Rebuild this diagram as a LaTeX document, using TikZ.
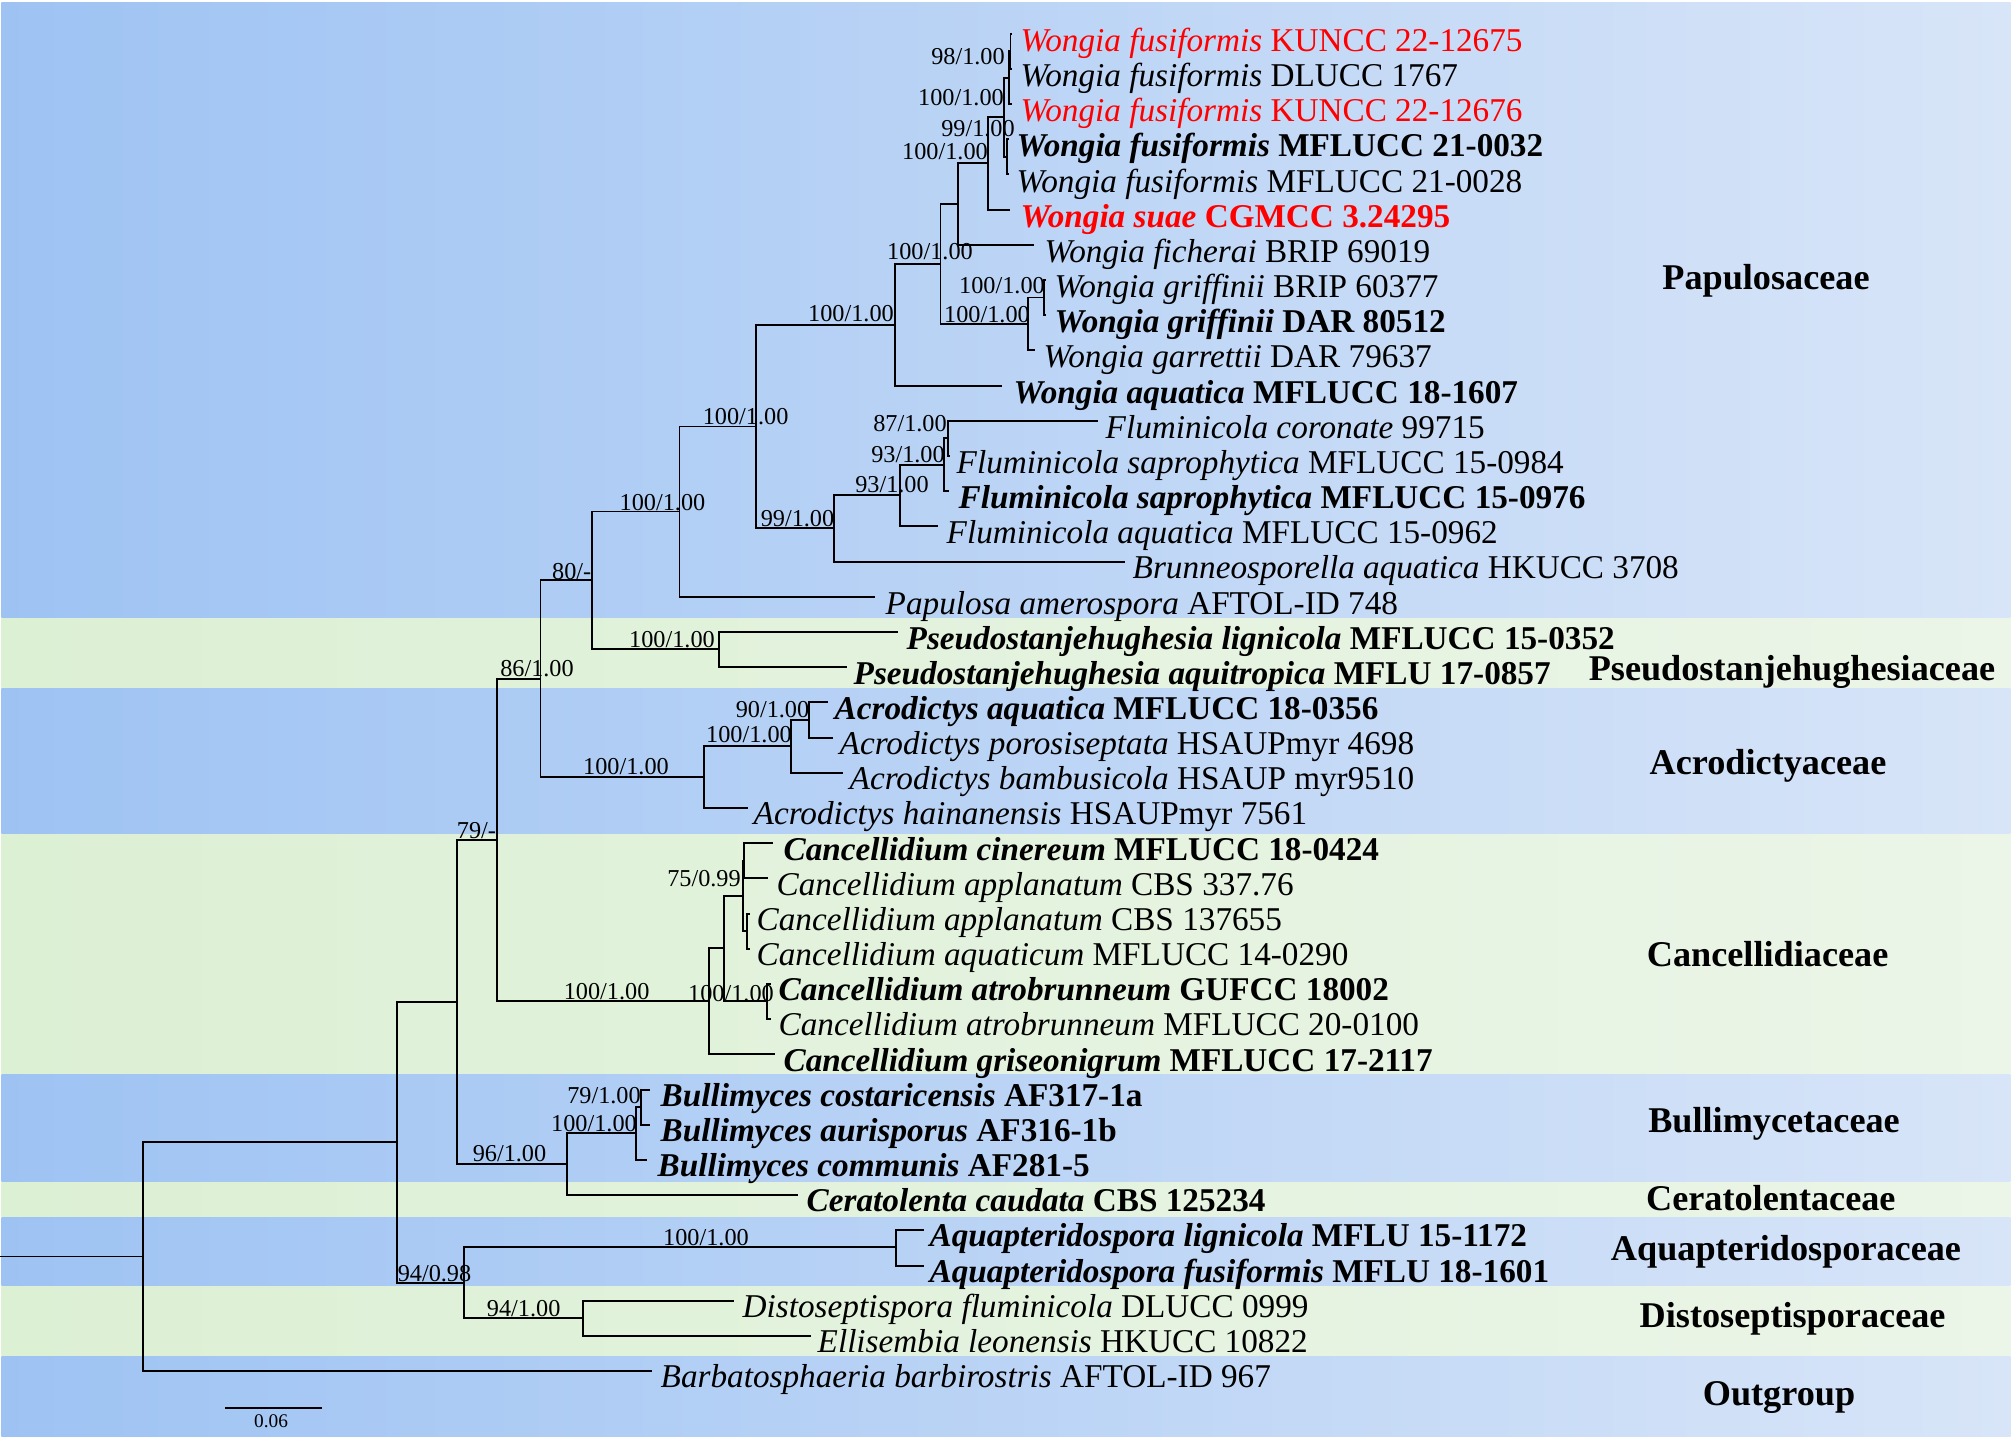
\documentclass[tikz,border=0pt]{standalone}
\usepackage{fontspec}
\setmainfont{Liberation Serif}
\definecolor{blueL}{RGB}{158,195,243}
\definecolor{blueR}{RGB}{216,229,248}
\definecolor{greenL}{RGB}{220,240,212}
\definecolor{greenR}{RGB}{235,245,232}
\definecolor{newred}{RGB}{255,0,0}
\tikzset{
  branch/.style={line width=0.55pt},
  tax/.style={anchor=base west, inner sep=0pt, yshift=-0.015cm, font=\fontsize{9.45}{11}\selectfont},
  btax/.style={tax, font=\fontsize{9.45}{11}\selectfont\bfseries},
  bs/.style={inner sep=0pt, font=\fontsize{6.9}{8}\selectfont},
  fam/.style={anchor=base, inner sep=0pt, font=\fontsize{10.3}{12}\selectfont\bfseries},
}
\newcommand{\blueband}[2]{\shade[left color=blueL, right color=blueR] (1.5,#1) rectangle (2010.5,#2);}
\newcommand{\greenband}[2]{\shade[left color=greenL, right color=greenR] (1.5,#1) rectangle (2010.5,#2);}
\begin{document}
\begin{tikzpicture}[x=0.01cm, y=-0.01cm]
    \useasboundingbox (0,0) rectangle (2012,1438);
    \fill[white] (0,0) rectangle (2012,1438);
    \blueband{2}{617.5}
    \greenband{618.5}{687}
    \blueband{688}{833.5}
    \greenband{834.5}{1073.5}
    \blueband{1074.5}{1181}
    \greenband{1182}{1216}
    \blueband{1217}{1285.5}
    \greenband{1286.5}{1355.5}
    \blueband{1356.5}{1436}

    \coordinate (base) at (0,1256.5);
    \coordinate (root) at (143,1256.5);
    \coordinate (ingroup) at (397.4,1142.2);
    \coordinate (mid) at (457.3,1001.8);
    \coordinate (lower) at (464.4,1282.6);
    \coordinate (aquap) at (895.7,1247.4);
    \coordinate (disto) at (583,1317.8);
    \coordinate (cerat) at (567,1164);
    \coordinate (bul) at (635.8,1133.2);
    \coordinate (bulA) at (641,1106.8);
    \coordinate (upperB) at (497,839.9);
    \coordinate (cancel) at (708.7,1001.1);
    \coordinate (canE) at (724.3,948.4);
    \coordinate (canD) at (767,1001.1);
    \coordinate (canC) at (742.7,895.6);
    \coordinate (canA) at (744.2,860.5);
    \coordinate (canB) at (746.7,930.8);
    \coordinate (upper) at (540.5,678.6);
    \coordinate (acro) at (704,776.8);
    \coordinate (acroB) at (791,746.1);
    \coordinate (acroA) at (808.7,719.7);
    \coordinate (papB) at (591.7,580.4);
    \coordinate (pseudo) at (719.4,649.3);
    \coordinate (papul) at (679.5,511.5);
    \coordinate (papA) at (756,426.5);
    \coordinate (brun) at (834.4,528.3);
    \coordinate (flu) at (900,495.4);
    \coordinate (flusap) at (944.3,464.6);
    \coordinate (flucor) at (948.3,438.3);
    \coordinate (wong) at (894.6,324.7);
    \coordinate (wongcore) at (940.5,264);
    \coordinate (garr) at (1028,323.9);
    \coordinate (grif) at (1044,297.5);
    \coordinate (fich) at (958,204.1);
    \coordinate (suae) at (988,163.4);
    \coordinate (fusD) at (1004,117.2);
    \coordinate (fusC) at (1007,156.8);
    \coordinate (fusB) at (1009,77.6);
    \coordinate (fusA) at (1010.5,51.2);

    \coordinate (e1) at (1012,33.6);
    \coordinate (e2) at (1012,68.8);
    \coordinate (e3) at (1012,104.0);
    \coordinate (e4) at (1009,139.2);
    \coordinate (e5) at (1009,174.4);
    \coordinate (e6) at (1009.5,209.6);
    \coordinate (e7) at (1034,244.8);
    \coordinate (e8) at (1046,280.0);
    \coordinate (e9) at (1046,315.2);
    \coordinate (e10) at (1035,350.4);
    \coordinate (e11) at (1002,385.6);
    \coordinate (e12) at (1098,420.8);
    \coordinate (e13) at (950,456.0);
    \coordinate (e14) at (949,491.2);
    \coordinate (e15) at (938,526.4);
    \coordinate (e16) at (1124.5,561.6);
    \coordinate (e17) at (874.5,596.8);
    \coordinate (e18) at (898,632.0);
    \coordinate (e19) at (847,667.2);
    \coordinate (e20) at (828,702.4);
    \coordinate (e21) at (833,737.6);
    \coordinate (e22) at (843,772.8);
    \coordinate (e23) at (747.5,808.0);
    \coordinate (e24) at (773,843.2);
    \coordinate (e25) at (768,878.4);
    \coordinate (e26) at (750,913.6);
    \coordinate (e27) at (750,948.8);
    \coordinate (e28) at (771,984.0);
    \coordinate (e29) at (771,1019.2);
    \coordinate (e30) at (775,1054.4);
    \coordinate (e31) at (650,1089.6);
    \coordinate (e32) at (650,1124.8);
    \coordinate (e33) at (647.4,1160.0);
    \coordinate (e34) at (797.5,1195.2);
    \coordinate (e35) at (924,1230.4);
    \coordinate (e36) at (924,1265.6);
    \coordinate (e37) at (734,1300.8);
    \coordinate (e38) at (811,1336.0);
    \coordinate (e39) at (652,1371.2);

    \draw[branch] (base) -- (root);
    \draw[branch] (root) |- (ingroup) (root) |- (e39);
    \draw[branch] (ingroup) |- (mid) (ingroup) |- (lower);
    \draw[branch] (lower) |- (aquap) (lower) |- (disto);
    \draw[branch] (aquap) |- (e35) (aquap) |- (e36);
    \draw[branch] (disto) |- (e37) (disto) |- (e38);
    \draw[branch] (mid) |- (upperB) (mid) |- (cerat);
    \draw[branch] (cerat) |- (bul) (cerat) |- (e34);
    \draw[branch] (bul) |- (bulA) (bul) |- (e33);
    \draw[branch] (bulA) |- (e31) (bulA) |- (e32);
    \draw[branch] (upperB) |- (upper) (upperB) |- (cancel);
    \draw[branch] (cancel) |- (canE) (cancel) |- (e30);
    \draw[branch] (canE) |- (canC) (canE) |- (canD);
    \draw[branch] (canD) |- (e28) (canD) |- (e29);
    \draw[branch] (canC) |- (canA) (canC) |- (canB);
    \draw[branch] (canA) |- (e24) (canA) |- (e25);
    \draw[branch] (canB) |- (e26) (canB) |- (e27);
    \draw[branch] (upper) |- (papB) (upper) |- (acro);
    \draw[branch] (acro) |- (acroB) (acro) |- (e23);
    \draw[branch] (acroB) |- (acroA) (acroB) |- (e22);
    \draw[branch] (acroA) |- (e20) (acroA) |- (e21);
    \draw[branch] (papB) |- (papul) (papB) |- (pseudo);
    \draw[branch] (pseudo) |- (e18) (pseudo) |- (e19);
    \draw[branch] (papul) |- (papA) (papul) |- (e17);
    \draw[branch] (papA) |- (wong) (papA) |- (brun);
    \draw[branch] (brun) |- (flu) (brun) |- (e16);
    \draw[branch] (flu) |- (flusap) (flu) |- (e15);
    \draw[branch] (flusap) |- (flucor) (flusap) |- (e14);
    \draw[branch] (flucor) |- (e12) (flucor) |- (e13);
    \draw[branch] (wong) |- (wongcore) (wong) |- (e11);
    \draw[branch] (wongcore) |- (fich) (wongcore) |- (garr);
    \draw[branch] (garr) |- (grif) (garr) |- (e10);
    \draw[branch] (grif) |- (e8) (grif) |- (e9);
    \draw[branch] (fich) |- (suae) (fich) |- (e7);
    \draw[branch] (suae) |- (fusD) (suae) |- (e6);
    \draw[branch] (fusD) |- (fusB) (fusD) |- (fusC);
    \draw[branch] (fusC) |- (e4) (fusC) |- (e5);
    \draw[branch] (fusB) |- (fusA) (fusB) |- (e3);
    \draw[branch] (fusA) |- (e1) (fusA) |- (e2);

    \node[tax, text=newred] (t1) at (1020,49.9) {\textit{Wongia fusiformis} KUNCC 22-12675};
    \node[tax] (t2) at (1020,85.1) {\textit{Wongia fusiformis} DLUCC 1767};
    \node[tax, text=newred] (t3) at (1020,120.2) {\textit{Wongia fusiformis} KUNCC 22-12676};
    \node[btax] (t4) at (1016,155.4) {\textit{Wongia fusiformis} MFLUCC 21-0032};
    \node[tax] (t5) at (1016,190.5) {\textit{Wongia fusiformis} MFLUCC 21-0028};
    \node[btax, text=newred] (t6) at (1020,225.7) {\textit{Wongia suae} CGMCC 3.24295};
    \node[tax] (t7) at (1044,260.9) {\textit{Wongia ficherai} BRIP 69019};
    \node[tax] (t8) at (1054,296.0) {\textit{Wongia griffinii} BRIP 60377};
    \node[btax] (t9) at (1054,331.2) {\textit{Wongia griffinii} DAR 80512};
    \node[tax] (t10) at (1043,366.3) {\textit{Wongia garrettii} DAR 79637};
    \node[btax] (t11) at (1013,401.5) {\textit{Wongia aquatica} MFLUCC 18-1607};
    \node[tax] (t12) at (1105,436.7) {\textit{Fluminicola coronate} 99715};
    \node[tax] (t13) at (956,471.8) {\textit{Fluminicola saprophytica} MFLUCC 15-0984};
    \node[btax] (t14) at (958,507.0) {\textit{Fluminicola saprophytica} MFLUCC 15-0976};
    \node[tax] (t15) at (946,542.1) {\textit{Fluminicola aquatica} MFLUCC 15-0962};
    \node[tax] (t16) at (1132,577.3) {\textit{Brunneosporella aquatica} HKUCC 3708};
    \node[tax] (t17) at (885,612.5) {\textit{Papulosa amerospora} AFTOL-ID 748};
    \node[btax] (t18) at (906,647.6) {\textit{Pseudostanjehughesia lignicola} MFLUCC 15-0352};
    \node[btax] (t19) at (853,682.8) {\textit{Pseudostanjehughesia aquitropica} MFLU 17-0857};
    \node[btax] (t20) at (834,717.9) {\textit{Acrodictys aquatica} MFLUCC 18-0356};
    \node[tax] (t21) at (839,753.1) {\textit{Acrodictys porosiseptata} HSAUPmyr 4698};
    \node[tax] (t22) at (849,788.3) {\textit{Acrodictys bambusicola} HSAUP myr9510};
    \node[tax] (t23) at (753,823.4) {\textit{Acrodictys hainanensis} HSAUPmyr 7561};
    \node[btax] (t24) at (783,858.6) {\textit{Cancellidium cinereum} MFLUCC 18-0424};
    \node[tax] (t25) at (776,893.7) {\textit{Cancellidium applanatum} CBS 337.76};
    \node[tax] (t26) at (756,928.9) {\textit{Cancellidium applanatum} CBS 137655};
    \node[tax] (t27) at (756,964.1) {\textit{Cancellidium aquaticum} MFLUCC 14-0290};
    \node[btax] (t28) at (778,999.2) {\textit{Cancellidium atrobrunneum} GUFCC 18002};
    \node[tax] (t29) at (778,1034.4) {\textit{Cancellidium atrobrunneum} MFLUCC 20-0100};
    \node[btax] (t30) at (783,1069.5) {\textit{Cancellidium griseonigrum} MFLUCC 17-2117};
    \node[btax] (t31) at (660,1104.7) {\textit{Bullimyces costaricensis} AF317-1a};
    \node[btax] (t32) at (660,1139.9) {\textit{Bullimyces aurisporus} AF316-1b};
    \node[btax] (t33) at (657,1175.0) {\textit{Bullimyces communis} AF281-5};
    \node[btax] (t34) at (806,1210.2) {\textit{Ceratolenta caudata} CBS 125234};
    \node[btax] (t35) at (929,1245.3) {\textit{Aquapteridospora lignicola} MFLU 15-1172};
    \node[btax] (t36) at (929,1280.5) {\textit{Aquapteridospora fusiformis} MFLU 18-1601};
    \node[tax] (t37) at (742,1315.7) {\textit{Distoseptispora fluminicola} DLUCC 0999};
    \node[tax] (t38) at (817,1350.8) {\textit{Ellisembia leonensis} HKUCC 10822};
    \node[tax] (t39) at (660,1386.0) {\textit{Barbatosphaeria barbirostris} AFTOL-ID 967};

    \node[bs] (bsFusA) at (968,56.5) {98/1.00};
    \node[bs] (bsFusB) at (961,97.5) {100/1.00};
    \node[bs] (bsFusC) at (978,128.5) {99/1.00};
    \node[bs] (bsSuae) at (945,151.7) {100/1.00};
    \node[bs] (bsCore) at (930,251.7) {100/1.00};
    \node[bs] (bsGrif) at (1002,285.8) {100/1.00};
    \node[bs] (bsGarr) at (987,314.5) {100/1.00};
    \node[bs] (bsWong) at (851,313.5) {100/1.00};
    \node[bs] (bsPapA) at (745.6,416.5) {100/1.00};
    \node[bs] (bsFlucor) at (910,423.3) {87/1.00};
    \node[bs] (bsFlusap) at (908,454.3) {93/1.00};
    \node[bs] (bsFlu) at (892,485) {93/1.00};
    \node[bs] (bsBrun) at (797.5,518.8) {99/1.00};
    \node[bs] (bsPapul) at (662.5,502.5) {100/1.00};
    \node[bs] (bsPapB) at (571.7,571.5) {80/-};
    \node[bs] (bsPseudo) at (672,639.5) {100/1.00};
    \node[bs] (bsUpper) at (537,668.3) {86/1.00};
    \node[bs] (bsAcroA) at (772.5,710) {90/1.00};
    \node[bs] (bsAcroB) at (749,735) {100/1.00};
    \node[bs] (bsAcro) at (626,766.5) {100/1.00};
    \node[bs] (bsMid) at (476.5,830.5) {79/-};
    \node[bs] (bsCanA) at (704,879) {75/0.99};
    \node[bs] (bsCancel) at (606.6,991.5) {100/1.00};
    \node[bs] (bsCanE) at (731,993.3) {100/1.00};
    \node[bs] (bsBulA) at (604,1095.8) {79/1.00};
    \node[bs] (bsBul) at (594,1124) {100/1.00};
    \node[bs] (bsCerat) at (509.5,1153.3) {96/1.00};
    \node[bs] (bsAquap) at (706,1237.5) {100/1.00};
    \node[bs] (bsLower) at (434.5,1273.3) {94/0.98};
    \node[bs] (bsDisto) at (523.7,1308.3) {94/1.00};

    \node[fam] (fPap) at (1766,289) {Papulosaceae};
    \node[fam] (fPse) at (1792,680.5) {Pseudostanjehughesiaceae};
    \node[fam] (fAcr) at (1768,774) {Acrodictyaceae};
    \node[fam] (fCan) at (1767.6,966.7) {Cancellidiaceae};
    \node[fam] (fBul) at (1774,1132) {Bullimycetaceae};
    \node[fam] (fCer) at (1770.8,1210.5) {Ceratolentaceae};
    \node[fam] (fAqu) at (1786,1260.5) {Aquapteridosporaceae};
    \node[fam] (fDis) at (1792.6,1327.3) {Distoseptisporaceae};
    \node[fam] (fOut) at (1779,1405.6) {Outgroup};

    \coordinate (sbL) at (225,1408.3);
    \coordinate (sbR) at (321.5,1408.3);
    \draw[branch] (sbL) -- (sbR);
    \node[inner sep=0pt, font=\fontsize{5.5}{6}\selectfont] (sbText) at (271,1421) {0.06};
\end{tikzpicture}
\end{document}
